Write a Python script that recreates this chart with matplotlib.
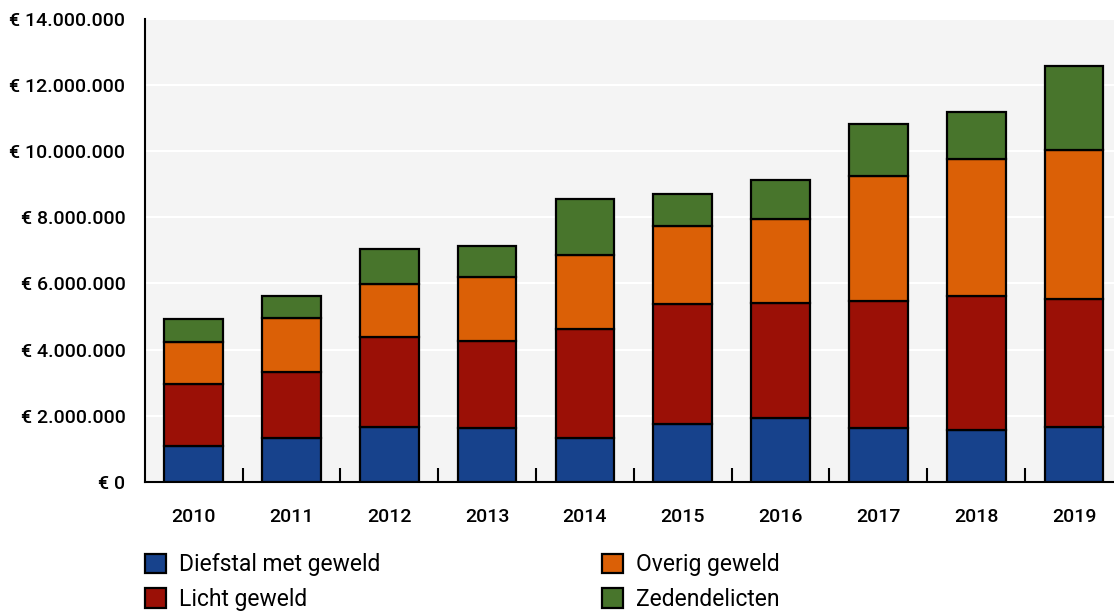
import matplotlib.pyplot as plt
import numpy as np
from matplotlib.ticker import FuncFormatter

plt.rcParams['font.family'] = ['Roboto', 'DejaVu Sans']

years = ["2010", "2011", "2012", "2013", "2014", "2015", "2016", "2017", "2018", "2019"]
# bedragen in miljoen euro
diefstal = [1.09, 1.34, 1.65, 1.62, 1.34, 1.75, 1.92, 1.64, 1.56, 1.66]
licht = [1.88, 1.97, 2.73, 2.65, 3.28, 3.63, 3.48, 3.84, 4.06, 3.88]
overig = [1.27, 1.65, 1.59, 1.94, 2.25, 2.35, 2.55, 3.76, 4.14, 4.50]
zeden = [0.69, 0.66, 1.07, 0.91, 1.69, 0.99, 1.19, 1.59, 1.43, 2.54]

labels = ["Diefstal met geweld", "Licht geweld", "Overig geweld", "Zedendelicten"]
colors = ["#17428c", "#9b1006", "#db6006", "#48752c"]

fig = plt.figure(figsize=(11.14, 6.13), dpi=100)
ax = fig.add_axes([0.130, 0.214, 0.878, 0.755])
ax.set_facecolor("#f4f4f4")

x = np.arange(len(years))
series = [np.array(diefstal), np.array(licht), np.array(overig), np.array(zeden)]
bottom = np.zeros(len(years))
handles = []
for vals, col, lab in zip(series, colors, labels):
    b = ax.bar(x, vals * 1e6, 0.6, bottom=bottom * 1e6, color=col,
               edgecolor="black", linewidth=1.6, label=lab, zorder=3)
    handles.append(b)
    bottom += vals

ax.set_xlim(-0.5, 9.5)
ax.set_ylim(0, 14e6)
ax.set_yticks(np.arange(0, 14.1e6, 2e6))
ax.yaxis.set_major_formatter(FuncFormatter(
    lambda v, p: "€ " + f"{int(v):,}".replace(",", ".")))
ax.grid(axis="y", color="white", linewidth=1.5, zorder=0)
ax.set_axisbelow(True)

ax.set_xticks(x)
ax.set_xticklabels(years)
ax.set_xticks(np.arange(0.5, 9, 1), minor=True)
ax.tick_params(axis="x", which="major", length=0, pad=19, labelsize=14)
ax.tick_params(axis="x", which="minor", direction="in", length=10, width=1.5)
ax.tick_params(axis="y", length=0, pad=14, labelsize=14)
for t in ax.get_xticklabels() + ax.get_yticklabels():
    t.set_fontweight("medium")

for s in ["top", "right"]:
    ax.spines[s].set_visible(False)
ax.spines["left"].set_linewidth(1.5)
ax.spines["bottom"].set_linewidth(1.5)

leg_kw = dict(loc="upper left", frameon=False, fontsize=16.5,
              handlelength=0.9, handleheight=0.9, handletextpad=0.6,
              labelspacing=0.52, borderpad=0, borderaxespad=0)
leg1 = fig.legend(handles[:2], labels[:2], bbox_to_anchor=(145 / 1114, 1 - 553 / 613), **leg_kw)
leg2 = fig.legend(handles[2:], labels[2:], bbox_to_anchor=(602 / 1114, 1 - 553 / 613), **leg_kw)
for leg in (leg1, leg2):
    for p in leg.get_patches():
        p.set_linewidth(1.6)

fig.savefig("out.png", dpi=100)
